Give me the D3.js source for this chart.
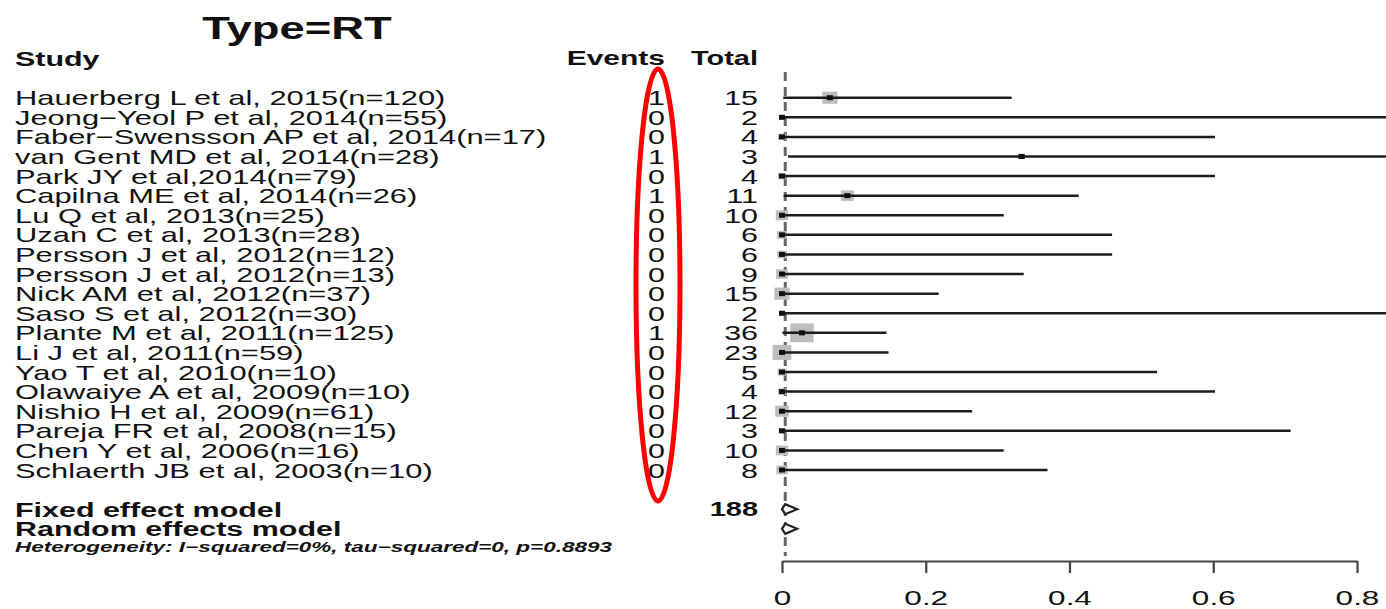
<!DOCTYPE html>
<html>
<head>
<meta charset="utf-8">
<script src="https://cdn.jsdelivr.net/npm/d3@7"></script>
<style>
  html, body { margin: 0; padding: 0; background: #fff; }
  svg { display: block; }
  text { font-family: "Liberation Sans", Arial, Helvetica, sans-serif; fill: #111; }
</style>
</head>
<body>
<svg id="chart" width="1386" height="609"></svg>
<script>
// Studies in the RT subgroup (events / total, proportion with exact 95% CI)
const studies = [
  "Hauerberg L et al, 2015(n=120)",
  "Jeong\u2212Yeol P et al, 2014(n=55)",
  "Faber\u2212Swensson AP et al, 2014(n=17)",
  "van Gent MD et al, 2014(n=28)",
  "Park JY et al,2014(n=79)",
  "Capilna ME et al, 2014(n=26)",
  "Lu Q et al, 2013(n=25)",
  "Uzan C et al, 2013(n=28)",
  "Persson J et al, 2012(n=12)",
  "Persson J et al, 2012(n=13)",
  "Nick AM et al, 2012(n=37)",
  "Saso S et al, 2012(n=30)",
  "Plante M et al, 2011(n=125)",
  "Li J et al, 2011(n=59)",
  "Yao T et al, 2010(n=10)",
  "Olawaiye A et al, 2009(n=10)",
  "Nishio H et al, 2009(n=61)",
  "Pareja FR et al, 2008(n=15)",
  "Chen Y et al, 2006(n=16)",
  "Schlaerth JB et al, 2003(n=10)"
];
const events = [1, 0, 0, 1, 0, 1, 0, 0, 0, 0, 0, 0, 1, 0, 0, 0, 0, 0, 0, 0];
const totals = [15, 2, 4, 3, 4, 11, 10, 6, 6, 9, 15, 2, 36, 23, 5, 4, 12, 3, 10, 8];
const ciLower = [0.0017, 0, 0, 0.0084, 0, 0.0023, 0, 0, 0, 0, 0, 0, 0.0007, 0, 0, 0, 0, 0, 0, 0];
const ciUpper = [0.3195, 0.8419, 0.6024, 0.9057, 0.6024, 0.4128, 0.3085, 0.4593, 0.4593, 0.3363,
                 0.2180, 0.8419, 0.1453, 0.1482, 0.5218, 0.6024, 0.2646, 0.7076, 0.3085, 0.3694];
const weights = [8.0, 1.1, 2.1, 1.6, 2.1, 5.9, 5.3, 3.2, 3.2, 4.8,
                 8.0, 1.1, 19.1, 12.2, 2.7, 2.1, 6.4, 1.6, 5.3, 4.3];

// Pooled estimates
const pooledLabels = ["Fixed effect model", "Random effects model"];
const pooledEst = [0.0045, 0.0045];
const pooledLower = [0, 0];
const pooledUpper = [0.021, 0.021];
const totalN = 188;
const heterogeneity = "Heterogeneity: I\u2212squared=0%, tau\u2212squared=0, p=0.8893";

const axisTicks = [0, 0.2, 0.4, 0.6, 0.8];

// ---- layout ----
const SX = 1.45;               // horizontal stretch applied to the text
const svg = d3.select("#chart");
svg.append("rect").attr("width", 1386).attr("height", 609).attr("fill", "#fff");

const x = d3.scaleLinear().domain([0, 0.8]).range([782, 1357]);
const row = d3.scaleLinear().domain([0, 19]).range([97.7, 470]);

function label(str, px, py, opts = {}) {
  const t = svg.append("text")
    .attr("transform", `translate(${px},${py}) scale(${opts.sx || SX},1)`)
    .attr("dy", "0.36em")
    .attr("text-anchor", opts.anchor || "start")
    .style("font-size", (opts.size || 21) + "px")
    .style("font-weight", opts.bold ? "bold" : "normal")
    .style("font-style", opts.italic ? "italic" : "normal")
    .text(str);
  if (opts.length) t.attr("textLength", opts.length).attr("lengthAdjust", "spacingAndGlyphs");
  return t;
}

// Title and column headers
label("Type=RT", 297, 27, { size: 32, bold: true, anchor: "middle", sx: 1.42 });
label("Study", 15, 58, { size: 21, bold: true });
label("Events", 665, 58, { size: 20, bold: true, anchor: "end", sx: 1.5 });
label("Total", 758, 58, { size: 20, bold: true, anchor: "end" });

// Study rows
studies.forEach((s, i) => {
  label(s, 15, row(i), { size: 21, sx: 1.47 });
  label(String(events[i]), 665, row(i), { size: 21, anchor: "end" });
  label(String(totals[i]), 758, row(i), { size: 21, anchor: "end" });
});

// Pooled rows
pooledLabels.forEach((s, j) => {
  label(s, 15, row(21 + j), { size: 21, bold: true });
});
label(String(totalN), 758, row(21), { size: 20, bold: true, anchor: "end" });
label(heterogeneity, 15, row(22.95), { size: 14, bold: true, italic: true, length: 597 / SX });

// Dashed reference line at the fixed-effect estimate
svg.append("line")
  .attr("x1", x(pooledEst[0])).attr("x2", x(pooledEst[0]))
  .attr("y1", 72).attr("y2", 556)
  .attr("stroke", "#666").attr("stroke-width", 3)
  .attr("stroke-dasharray", "9,6");

// Weight squares (stretched like the rest of the figure)
const sq = w => 4.3 * Math.sqrt(w);
const SQX = 1.25;
svg.append("g").selectAll("rect")
  .data(weights)
  .join("rect")
  .attr("x", (w, i) => x(events[i] / totals[i]) - sq(w) * SQX / 2)
  .attr("y", (w, i) => row(i) - sq(w) / 2)
  .attr("width", w => sq(w) * SQX)
  .attr("height", w => sq(w))
  .attr("fill", "#bdbdbd");

// Confidence interval lines
svg.append("g").selectAll("line")
  .data(ciUpper)
  .join("line")
  .attr("x1", (u, i) => x(ciLower[i]))
  .attr("x2", u => x(u))
  .attr("y1", (u, i) => row(i))
  .attr("y2", (u, i) => row(i))
  .attr("stroke", "#1c1c1c").attr("stroke-width", 2.5);

// Point estimates
svg.append("g").selectAll("rect")
  .data(events)
  .join("rect")
  .attr("x", (e, i) => x(e / totals[i]) - 3)
  .attr("y", (e, i) => row(i) - 2.5)
  .attr("width", 6).attr("height", 5)
  .attr("fill", "#111");

// Pooled diamonds
svg.append("g").selectAll("path")
  .data(pooledEst)
  .join("path")
  .attr("d", (e, j) => {
    const yy = row(21 + j);
    return `M${x(pooledLower[j])},${yy}L${x(e)},${yy - 5}L${x(pooledUpper[j])},${yy}L${x(e)},${yy + 5}Z`;
  })
  .attr("fill", "#fff").attr("stroke", "#222").attr("stroke-width", 2.2);

// Axis
const axis = svg.append("g")
  .attr("transform", "translate(0,561)")
  .call(d3.axisBottom(x).tickValues(axisTicks).tickSize(12).tickSizeOuter(0)
        .tickFormat(d => d === 0 ? "0" : d3.format(".1f")(d)));
axis.select(".domain").attr("stroke", "#444").attr("stroke-width", 2.2);
axis.selectAll(".tick line").attr("stroke", "#444").attr("stroke-width", 2.2);
axis.selectAll(".tick text")
  .attr("y", 36).attr("dy", "0.36em")
  .attr("transform", `scale(1.5,1)`)
  .style("font-size", "21px").style("font-family", "Liberation Sans, Arial, sans-serif")
  .attr("fill", "#222");

// Highlight around the Events column
svg.append("ellipse")
  .attr("cx", 658).attr("cy", 285)
  .attr("rx", 22).attr("ry", 216)
  .attr("fill", "none").attr("stroke", "#f00").attr("stroke-width", 5);
</script>
</body>
</html>
